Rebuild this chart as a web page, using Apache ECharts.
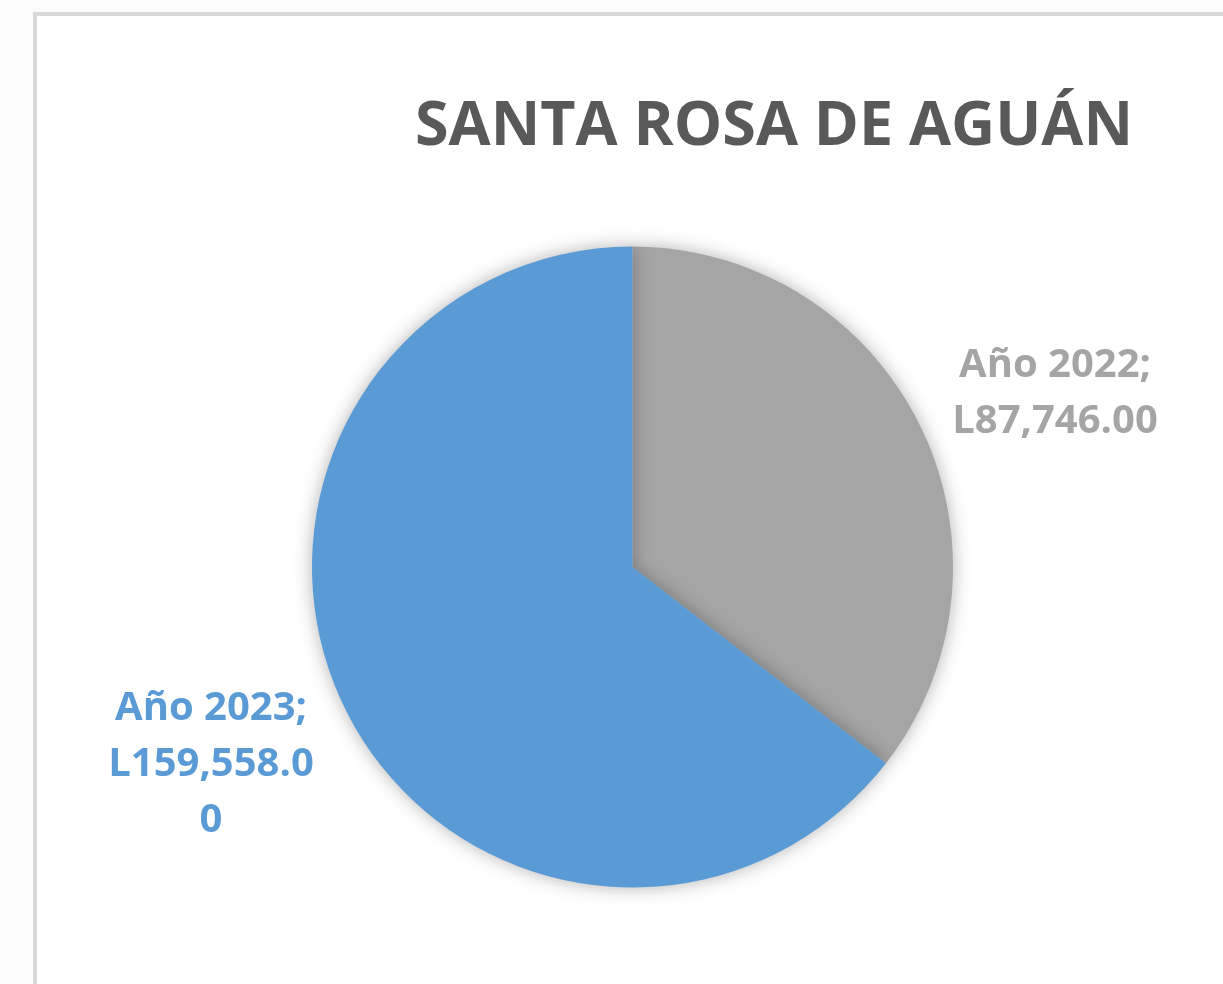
<!DOCTYPE html>
<html>
<head>
<meta charset="utf-8">
<script src="https://cdn.jsdelivr.net/npm/echarts@6/dist/echarts.min.js"></script>
<style>
  html, body { margin: 0; padding: 0; background: #fcfcfc; width: 1223px; height: 984px; overflow: hidden; }
  #frame { position: absolute; left: 33px; top: 12px; width: 1400px; height: 1200px; border: 4px solid #d9d9d9; background: #ffffff; }
  #chart { position: absolute; left: 0; top: 0; width: 1223px; height: 984px; }
</style>
</head>
<body>
<div id="frame"></div>
<div id="chart"></div>
<script>
const titleText = 'SANTA ROSA DE AGUÁN';
const categories = ['Año 2022', 'Año 2023'];
const values = [87746.00, 159558.00];
const valueLabels = ['L87,746.00', 'L159,558.0\n0'];
const colors = ['#A5A5A5', '#5B9BD5'];

const chart = echarts.init(document.getElementById('chart'), null, { renderer: 'canvas' });
const labelPos = [[1055, 394], [211, 765]];
const option = {
  animation: false,
  title: {
    text: titleText,
    left: 769,
    top: 92,
    textAlign: 'center',
    textStyle: { fontFamily: 'Open Sans', fontWeight: 'bold', fontSize: 61, color: '#595959' }
  },
  series: [{
    type: 'pie',
    center: [632.5, 567],
    radius: 320.5,
    startAngle: 90,
    clockwise: true,
    data: categories.map((c, i) => ({
      name: c,
      value: values[i],
      itemStyle: { color: colors[i] },
      label: { color: colors[i], formatter: c + ';\n' + valueLabels[i] }
    })),
    itemStyle: { shadowBlur: 18, shadowColor: 'rgba(0,0,0,0.3)', borderWidth: 0 },
    label: {
      show: true,
      position: 'outside',
      fontFamily: 'Open Sans',
      fontWeight: 'bold',
      fontSize: 40,
      lineHeight: 56,
      align: 'center'
    },
    labelLine: { show: false },
    labelLayout: function (params) {
      const p = labelPos[params.dataIndex];
      return { x: p[0], y: p[1], align: 'center', verticalAlign: 'middle' };
    },
    emphasis: { disabled: true }
  }]
};
chart.setOption(option);
</script>
</body>
</html>
